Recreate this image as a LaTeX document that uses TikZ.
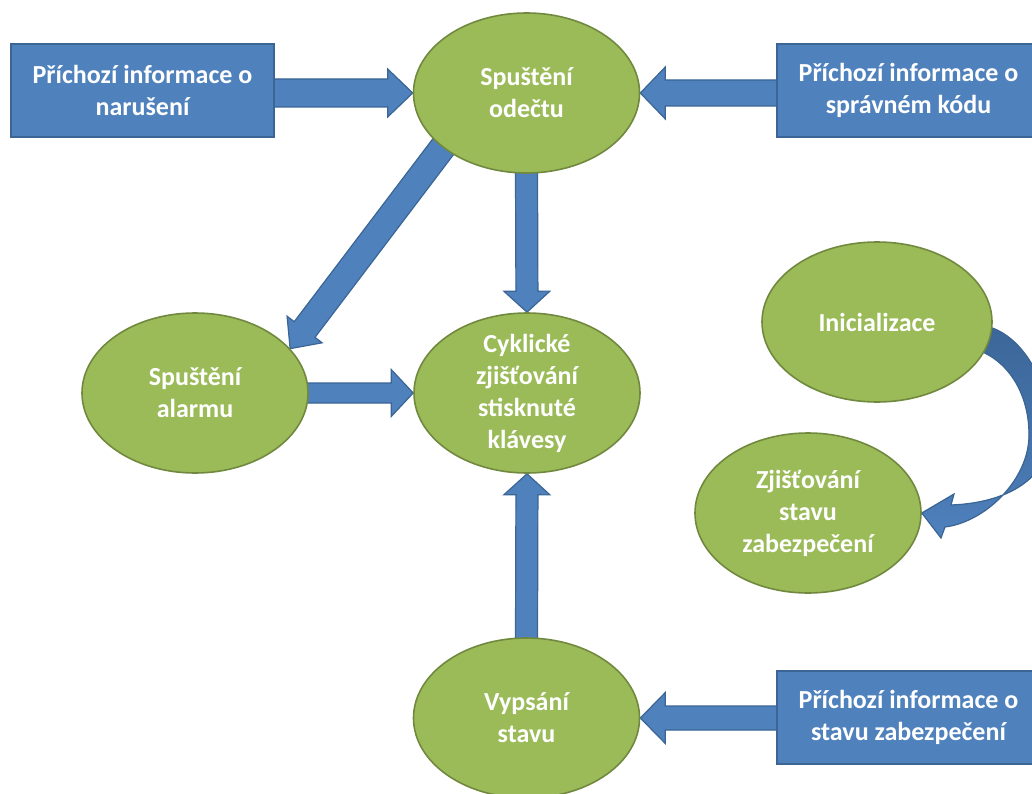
\documentclass[tikz,border=0pt]{standalone}
\usepackage{fontspec}
\setmainfont{Carlito}
\usetikzlibrary{calc,shapes.geometric,backgrounds}
\definecolor{bfill}{HTML}{4F81BD}
\definecolor{bline}{HTML}{3A6594}
\definecolor{bdark}{HTML}{3C679A}
\definecolor{gfill}{HTML}{9BBB59}
\definecolor{gline}{HTML}{71893F}
\tikzset{
  ell/.style={ellipse, draw=gline, fill=gfill, line width=1.6pt,
    minimum width=226pt, minimum height=160pt, inner sep=-40pt,
    align=center, text=white, font=\bfseries\fontsize{26}{32}\selectfont},
  infobox/.style={rectangle, draw=bline, fill=bfill, line width=1.6pt,
    minimum width=263pt, minimum height=93pt, inner sep=0pt,
    align=center, text=white, font=\bfseries\fontsize{26}{32}\selectfont},
  blockarrow/.style={fill=bfill, draw=bline, line width=1.2pt, line join=miter},
}
% #1 source, #2 target, #3 shaft half width, #4 head half width, #5 head length
\newcommand\barrow[5]{%
  \path ($(#1)!-8pt!(#2)$) coordinate (barS) (#2) coordinate (barT);
  \path ($(barT)!#5!(barS)$) coordinate (barB);
  \filldraw[blockarrow] ($(barS)!#3!90:(barT)$) -- ($(barB)!#3!90:(barT)$)
    -- ($(barB)!#4!90:(barT)$) -- (barT) -- ($(barB)!#4!-90:(barT)$)
    -- ($(barB)!#3!-90:(barT)$) -- ($(barS)!#3!-90:(barT)$) -- cycle;%
}
\begin{document}
\begin{tikzpicture}[x=1pt,y=-1pt]
\useasboundingbox (0,0) rectangle (1032,794);
\clip (0,0) rectangle (1032,794);

\node[infobox] (inL) at (142.5,90.5) {Příchozí informace o\\narušení};
\node[infobox] (inR) at (908.5,90.5) {Příchozí informace o\\správném kódu};
\node[infobox] (inB) at (908.5,717.5) {Příchozí informace o\\stavu zabezpečení};

\node[ell] (odecet) at (526.5,93) {Spuštění\\odečtu};
\node[ell] (cykl) at (527,393) {Cyklické\\zjišťování\\stisknuté\\klávesy};
\node[ell] (alarm) at (195,393) {Spuštění\\alarmu};
\node[ell] (vypis) at (526.5,718) {Vypsání\\stavu};
\node[ell, minimum width=230pt] (ini) at (877,322) {Inicializace};
\node[ell] (zji) at (808,513) {Zjišťování\\stavu\\zabezpečení};

\begin{scope}[on background layer]
  \barrow{inL.east |- odecet.west}{odecet.west}{14pt}{24pt}{25pt}
  \barrow{inR.west |- odecet.east}{odecet.east}{13pt}{26pt}{25pt}
  \barrow{odecet.south}{cykl.north}{11pt}{23pt}{21pt}
  \barrow{odecet.213}{alarm.25}{13pt}{22pt}{24pt}
  \barrow{alarm.east}{cykl.west}{10pt}{23.5pt}{22pt}
  \barrow{vypis.north}{cykl.south}{11pt}{23pt}{21pt}
  \barrow{inB.west |- vypis.east}{vypis.east}{12pt}{25.5pt}{25pt}
  \filldraw[draw=bline, line width=1.2pt, line join=miter,
            top color=bdark, bottom color=bfill, middle color=bdark!60!bfill]
    (ini.-3) .. controls (1025,340) and (1050,385) .. (1050,432)
    .. controls (1050,480) and (1005,503) .. (951,505)
    -- (954,494) -- (zji.east) -- (941,538) -- (945,527)
    .. controls (985,522) and (1029,480) .. (1029,435)
    .. controls (1029,395) and (1010,365) .. (ini.-16) -- cycle;
\end{scope}
\end{tikzpicture}
\end{document}
